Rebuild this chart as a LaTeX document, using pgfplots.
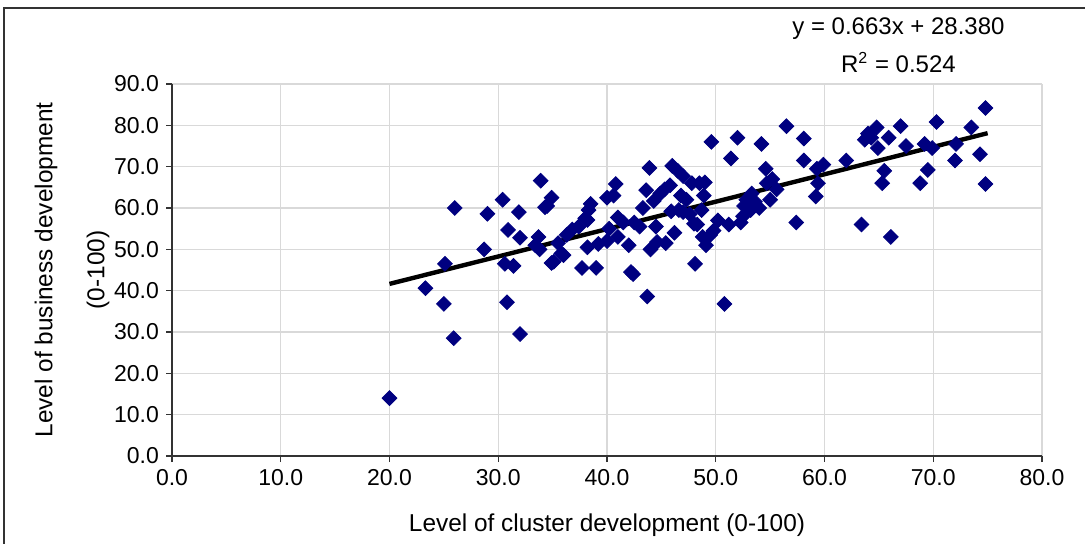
\documentclass[border=0pt]{standalone}
\usepackage{pgfplots}
\pgfplotsset{compat=1.18}
\usepackage{fontspec}
\setmainfont{Liberation Sans}
\definecolor{navy}{HTML}{000080}
\definecolor{gridg}{HTML}{D9D9D9}
\begin{document}
\begin{tikzpicture}
\useasboundingbox (0,0) rectangle (542.5pt,271.5pt);
\draw[line width=0.8pt, black!80] (2pt,-2pt) rectangle (546pt,267.5pt);
\begin{axis}[
  at={(86pt,43.5pt)}, anchor=south west,
  width=435pt, height=186pt, scale only axis,
  xmin=0, xmax=80, ymin=0, ymax=90,
  xtick distance=10, ytick distance=10,
  grid=major, major grid style={gridg, line width=0.6pt},
  axis lines=left, axis line style={black!80, line width=0.6pt, -},
  tick style={black!80, line width=0.6pt},
  tick align=outside, major tick length=3pt,
  tick label style={font=\fontsize{11.5}{13}\selectfont},
  /pgf/number format/assume math mode=true,
  xticklabel style={/pgf/number format/.cd, fixed, fixed zerofill, precision=1},
  yticklabel style={/pgf/number format/.cd, fixed, fixed zerofill, precision=1},
  xlabel={Level of cluster development (0-100)},
  ylabel={Level of business development\\(0-100)},
  ylabel style={align=center, font=\fontsize{12.2}{26}\selectfont, yshift=-4.5pt},
  xlabel style={font=\fontsize{12.2}{14}\selectfont, yshift=-7.5pt},
  clip=false,
]
\addplot[only marks, mark=square*, mark size=2.6pt, mark options={rotate=45, fill=navy, draw=navy}] coordinates {
(20.0,14.0) (23.3,40.6) (25.0,36.8) (25.1,46.5) (25.9,28.5) (26.0,60.0)
(28.7,50.0) (29.0,58.6) (30.4,62.0) (30.6,46.5) (30.8,37.2) (30.9,54.7)
(31.4,46.0) (31.9,59.0) (32.0,29.5) (32.0,52.8) (33.7,53.0) (33.8,50.0)
(33.9,66.6) (34.5,60.5) (34.9,62.5) (35.1,47.0) (35.5,51.5) (35.8,49.0)
(36.3,53.5) (36.8,54.8) (37.4,55.5) (37.7,45.5) (38.0,57.5) (38.2,50.5)
(38.3,59.5) (38.5,61.0) (39.0,45.5) (39.2,51.3) (40.0,52.0) (40.0,62.5)
(40.2,55.0) (40.6,63.0) (40.8,65.8) (41.0,53.0) (41.0,57.7) (41.5,56.5)
(42.0,51.0) (42.2,44.5) (42.4,44.0) (42.5,56.5) (43.0,55.5) (43.3,60.0)
(43.6,64.3) (43.7,38.6) (43.9,69.7) (44.0,50.0) (44.3,61.7) (44.5,55.5)
(44.6,51.8) (44.9,63.5) (45.3,64.5) (45.4,51.5) (45.8,65.5) (45.9,59.2)
(46.0,70.2) (46.2,54.0) (46.5,69.0) (46.6,59.5) (46.8,63.0) (47.0,67.7)
(47.0,59.0) (47.3,62.0) (47.6,58.5) (47.8,66.0) (48.0,56.2) (48.1,46.5)
(48.3,56.0) (48.5,66.0) (48.7,59.5) (48.8,53.0) (48.9,63.0) (49.0,66.2)
(49.1,51.0) (49.5,53.5) (49.6,76.0) (49.8,54.5) (50.2,57.0) (50.8,36.8)
(51.2,56.0) (51.4,72.0) (52.0,77.0) (52.3,56.5) (52.5,58.0) (52.6,60.5)
(52.8,62.0) (53.2,59.5) (53.3,63.5) (53.6,61.5) (54.0,60.0) (54.2,75.5)
(54.6,69.5) (54.7,66.0) (55.0,62.0) (55.2,67.0) (55.6,64.5) (56.5,79.8)
(57.4,56.5) (58.1,76.8) (58.1,71.5) (59.2,62.8) (59.3,69.5) (59.4,66.0)
(59.9,70.5) (62.0,71.5) (63.4,56.0) (63.7,76.5) (64.0,78.0) (64.3,77.0)
(64.8,79.5) (64.9,74.5) (65.3,66.0) (65.5,69.0) (65.9,77.0) (66.1,53.0)
(67.0,79.8) (67.5,75.0) (68.8,66.0) (69.2,75.5) (69.5,69.2) (69.9,74.5)
(70.3,80.8) (72.0,71.5) (72.1,75.5) (73.5,79.5) (74.3,73.0) (74.8,84.2)
(74.8,65.8) (34.3,60.2) (36.0,48.6) (34.9,46.7) (33.4,51.0) (38.2,57.1)
};
\addplot[black, line width=2.2pt] coordinates {(20,41.64) (75,78.105)};
\node[font=\fontsize{12}{14}\selectfont] at (axis cs:66.8,103.4) {y = 0.663x + 28.380};
\node[font=\fontsize{12}{14}\selectfont] at (axis cs:66.8,95.2) {R\textsuperscript{2} = 0.524};
\end{axis}
\end{tikzpicture}
\end{document}
